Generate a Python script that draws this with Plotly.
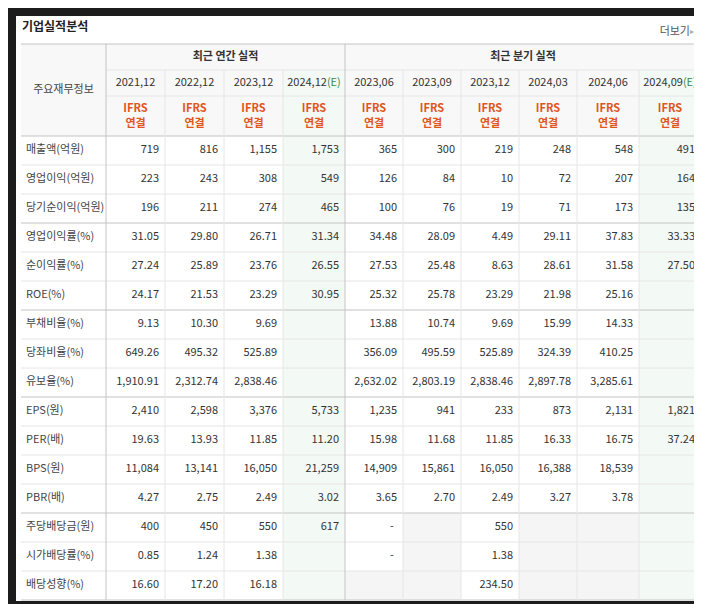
import plotly.graph_objects as go

row_labels = ['매출액(억원)', '영업이익(억원)', '당기순이익(억원)', '영업이익률(%)', '순이익률(%)', 'ROE(%)',
              '부채비율(%)', '당좌비율(%)', '유보율(%)', 'EPS(원)', 'PER(배)', 'BPS(원)', 'PBR(배)',
              '주당배당금(원)', '시가배당률(%)', '배당성향(%)']
periods = ['2021.12', '2022.12', '2023.12', '2024.12', '2023.06', '2023.09', '2023.12', '2024.03', '2024.06', '2024.09']
estimate = [False, False, False, True, False, False, False, False, False, True]

values = [
    ['719', '816', '1,155', '1,753', '365', '300', '219', '248', '548', '491'],
    ['223', '243', '308', '549', '126', '84', '10', '72', '207', '164'],
    ['196', '211', '274', '465', '100', '76', '19', '71', '173', '135'],
    ['31.05', '29.80', '26.71', '31.34', '34.48', '28.09', '4.49', '29.11', '37.83', '33.33'],
    ['27.24', '25.89', '23.76', '26.55', '27.53', '25.48', '8.63', '28.61', '31.58', '27.50'],
    ['24.17', '21.53', '23.29', '30.95', '25.32', '25.78', '23.29', '21.98', '25.16', ''],
    ['9.13', '10.30', '9.69', '', '13.88', '10.74', '9.69', '15.99', '14.33', ''],
    ['649.26', '495.32', '525.89', '', '356.09', '495.59', '525.89', '324.39', '410.25', ''],
    ['1,910.91', '2,312.74', '2,838.46', '', '2,632.02', '2,803.19', '2,838.46', '2,897.78', '3,285.61', ''],
    ['2,410', '2,598', '3,376', '5,733', '1,235', '941', '233', '873', '2,131', '1,821'],
    ['19.63', '13.93', '11.85', '11.20', '15.98', '11.68', '11.85', '16.33', '16.75', '37.24'],
    ['11,084', '13,141', '16,050', '21,259', '14,909', '15,861', '16,050', '16,388', '18,539', ''],
    ['4.27', '2.75', '2.49', '3.02', '3.65', '2.70', '2.49', '3.27', '3.78', ''],
    ['400', '450', '550', '617', '-', '', '550', '', '', ''],
    ['0.85', '1.24', '1.38', '', '-', '', '1.38', '', '', ''],
    ['16.60', '17.20', '16.18', '', '', '', '234.50', '', '', ''],
]

# geometry (pixels)
col_edges = [13, 98, 157, 216, 275, 337, 395, 453, 511, 569, 631, 693]
y_group, y_date, y_ifrs, y_data = 36, 62, 88, 128
row_h = 29
group_breaks = [3, 6, 9, 13]

FONT = 'Noto Sans CJK KR'
GRID = '#e6e6e6'
DARK = '#c4c4c4'
GREEN = '#f3f9f4'
GREY = '#f5f5f5'
HEAD = '#f8f8f8'

shapes = []
def rect(x0, y0, x1, y1, fill):
    shapes.append(dict(type='rect', x0=x0, x1=x1, y0=y0, y1=y1, fillcolor=fill, line_width=0, layer='below'))
def line(x0, y0, x1, y1, color, w=1):
    shapes.append(dict(type='line', x0=x0, x1=x1, y0=y0, y1=y1, line=dict(color=color, width=w)))

bottom = y_data + row_h * len(row_labels)
rect(0, 0, 702, 604, '#1c1c1c')
rect(8, 8, 694, bottom + 1, 'white')
# header backgrounds
rect(13, y_group, 693, y_data, HEAD)
for j, e in enumerate(estimate):
    x0, x1 = col_edges[j + 1], col_edges[j + 2]
    if e:
        rect(x0, y_date, x1, bottom, GREEN)
    else:
        for i in range(len(row_labels)):
            if values[i][j] == '':
                rect(x0, y_data + i * row_h, x1, y_data + (i + 1) * row_h, GREY)

# horizontal grid
line(13, y_group, 693, y_group, DARK)
line(98, y_date, 693, y_date, GRID)
line(98, y_ifrs, 693, y_ifrs, GRID)
line(13, y_data, 693, y_data, DARK)
for i in range(1, len(row_labels) + 1):
    y = y_data + i * row_h
    line(13, y, 693, y, DARK if (i in group_breaks or i == len(row_labels)) else GRID)
# vertical grid
for x in col_edges[1:-1]:
    if x in (98, 337):
        line(x, y_group, x, bottom, DARK)
    else:
        line(x, y_date, x, bottom, GRID)

traces = []
def text_trace(xs, ys, txt, pos, color='#333333', size=11, bold=False):
    traces.append(go.Scatter(x=xs, y=ys, text=[('<b>%s</b>' % t) if bold else t for t in txt],
                             mode='text', textposition=pos, hoverinfo='skip', cliponaxis=False,
                             textfont=dict(family=FONT, size=size, color=color)))

# title
text_trace([14], [20], ['기업실적분석'], 'middle right', '#222222', 12, True)
text_trace([682], [24], ['더보기'], 'middle left', '#555555', 11)
text_trace([682], [24], ['▸'], 'middle right', '#aaaaaa', 8)

# header
text_trace([(98 + 337) / 2, (337 + 693) / 2], [(y_group + y_date) / 2] * 2,
           ['최근 연간 실적', '최근 분기 실적'], 'middle center', '#333333', 11, True)
text_trace([(13 + 98) / 2], [(y_group + y_data) / 2], ['주요재무정보'], 'middle center', '#444444', 11)
cx = [(col_edges[j + 1] + col_edges[j + 2]) / 2 for j in range(len(periods))]
per_txt = [p.replace('.', ',') + ('<span style="color:#3b8a4f">(E)</span>' if e else '')
           for p, e in zip(periods, estimate)]
text_trace(cx, [(y_date + y_ifrs) / 2] * len(cx), per_txt, 'middle center', '#333333', 11)
text_trace(cx, [y_ifrs + 13] * len(cx), ['IFRS'] * len(cx), 'middle center', '#e0561c', 11, True)
text_trace(cx, [y_ifrs + 28] * len(cx), ['연결'] * len(cx), 'middle center', '#e0561c', 11, True)

# rows
ry = [y_data + (i + 0.5) * row_h for i in range(len(row_labels))]
text_trace([18] * len(ry), ry, row_labels, 'middle right', '#444444', 11)
for j in range(len(periods)):
    col = [values[i][j] for i in range(len(row_labels))]
    xr = col_edges[j + 2] - 6
    for i, v in enumerate(col):
        if v == '-':
            text_trace([cx[j] + 18], [ry[i]], [v], 'middle center')
    pts = [(xr, ry[i], v) for i, v in enumerate(col) if v not in ('', '-')]
    text_trace([p[0] for p in pts], [p[1] for p in pts], [p[2] for p in pts], 'middle left')

fig = go.Figure(traces)
fig.update_layout(width=702, height=604, margin=dict(l=0, r=0, t=0, b=0, pad=0, autoexpand=False),
                  showlegend=False,
                  paper_bgcolor='#1c1c1c', plot_bgcolor='#1c1c1c', shapes=shapes,
                  xaxis=dict(range=[0, 702], visible=False, fixedrange=True),
                  yaxis=dict(range=[604, 0], visible=False, fixedrange=True))
fig.write_html("out.html")
